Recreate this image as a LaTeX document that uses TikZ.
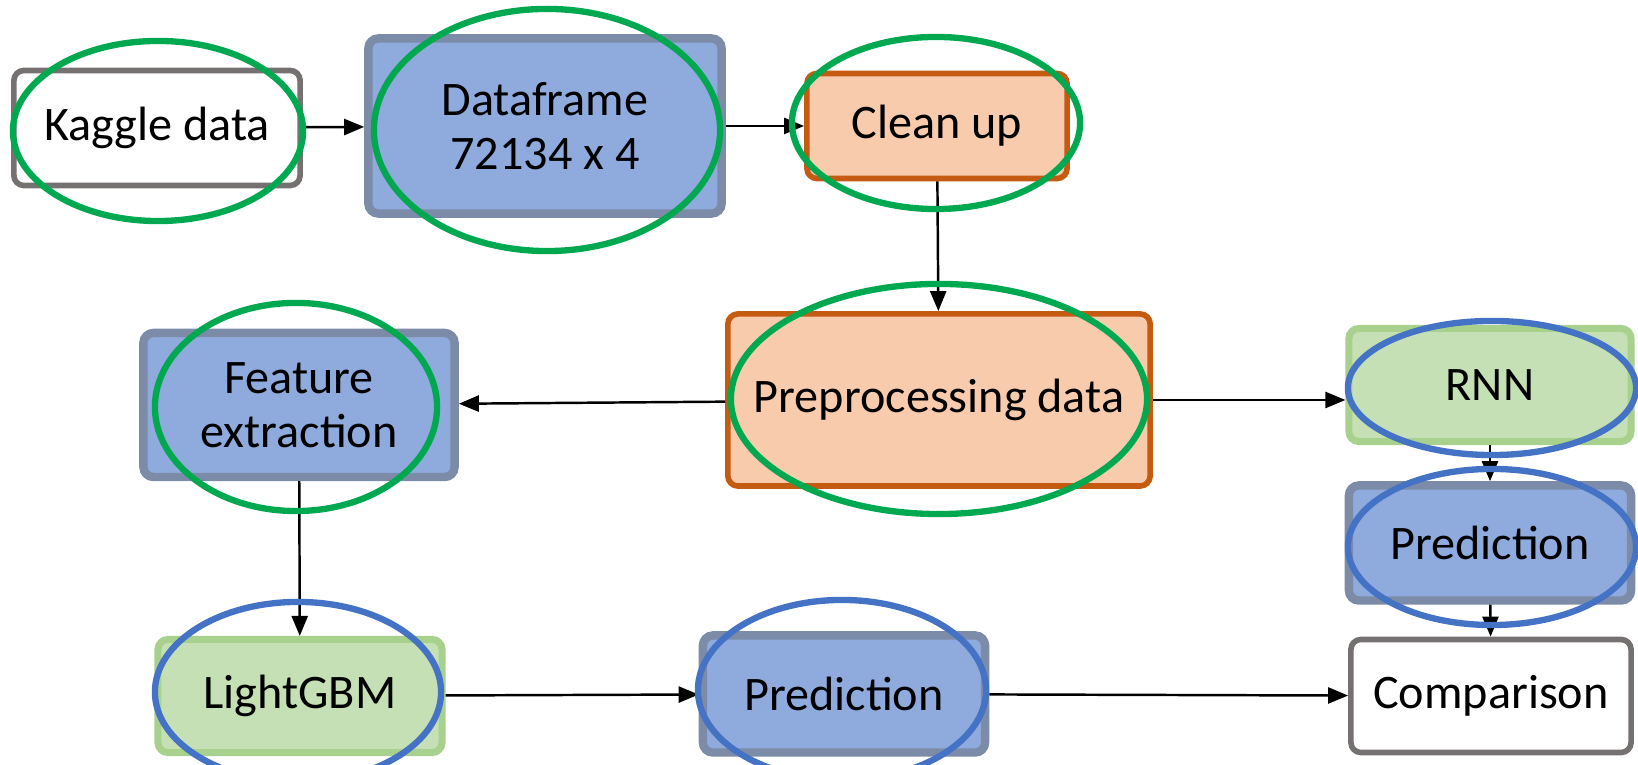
\documentclass[tikz,border=0pt]{standalone}
\usepackage{fontspec}
\setmainfont{Carlito}
\usetikzlibrary{arrows.meta,positioning,shapes.geometric}
\definecolor{boxblue}{RGB}{143,170,220}
\definecolor{boxblueline}{RGB}{124,140,168}
\definecolor{boxorange}{RGB}{248,203,173}
\definecolor{boxorangeline}{RGB}{197,90,17}
\definecolor{boxgreen}{RGB}{197,224,180}
\definecolor{boxgreenline}{RGB}{169,209,142}
\definecolor{boxgray}{RGB}{118,113,113}
\definecolor{ringgreen}{RGB}{0,168,80}
\definecolor{ringblue}{RGB}{68,114,196}

\tikzset{
  stage/.style={rounded corners=0.1cm, line width=1.6pt, align=center,
    font=\fontsize{13.7}{15.4}\selectfont, inner sep=0pt},
  rawbox/.style={stage, draw=boxgray, fill=white},
  databox/.style={stage, draw=boxblueline, fill=boxblue, line width=2.4pt},
  procbox/.style={stage, draw=boxorangeline, fill=boxorange},
  modelbox/.style={stage, draw=boxgreenline, fill=boxgreen, line width=2pt},
  flow/.style={-{Triangle[length=0.2cm,width=0.16cm]}, line width=0.7pt},
  greenring/.style={draw=ringgreen, line width=1.8pt},
  bluering/.style={draw=ringblue, line width=1.8pt}
}

\begin{document}
\begin{tikzpicture}[x=0.01cm, y=-0.01cm]
\useasboundingbox (0,0) rectangle (1638,765);
% Top row
\node[rawbox, minimum width=2.86cm, minimum height=1.15cm] (kaggle) at (157,128) {Kaggle data};
\node[databox, minimum width=3.53cm, minimum height=1.75cm] (frame) at (545,126) {Dataframe\\72134 x 4};
\node[procbox, minimum width=2.60cm, minimum height=1.05cm] (clean) at (937,126) {Clean up};
% Middle row
\node[procbox, minimum width=4.22cm, minimum height=1.72cm] (prep) at (939,400) {Preprocessing data};
\node[databox, minimum width=3.11cm, minimum height=1.44cm] (feat) at (299,405) {Feature\\extraction};
\node[modelbox, minimum width=2.82cm, minimum height=1.13cm] (rnn) at (1490,385) {RNN};
\node[databox, minimum width=2.82cm, minimum height=1.15cm] (predR) at (1490,543) {Prediction};
% Bottom row
\node[modelbox, minimum width=2.84cm, minimum height=1.13cm] (lgbm) at (300,696) {LightGBM};
\node[databox, minimum width=2.82cm, minimum height=1.17cm] (predB) at (844,694) {Prediction};
\node[rawbox, minimum width=2.80cm, minimum height=1.13cm] (cmp) at (1491,696) {Comparison};
% Arrows
\draw[flow] (kaggle) -- (frame);
\draw[flow] (frame) -- (clean);
\draw[flow] (clean) -- (prep);
\draw[flow] (prep) -- (feat);
\draw[flow] (prep.east) -- (prep.east -| rnn.west);
\draw[flow] (feat) -- (lgbm);
\draw[flow] (lgbm) -- (predB);
\draw[flow] (predB) -- (cmp);
\draw[flow] (rnn) -- (predR);
\draw[flow] (predR) -- (cmp);
% Highlight rings
\draw[greenring] (158,131) ellipse [x radius=1.45cm, y radius=0.90cm];
\draw[greenring] (547,130) ellipse [x radius=1.73cm, y radius=1.21cm];
\draw[greenring] (936,123) ellipse [x radius=1.44cm, y radius=0.86cm];
\draw[greenring] (939,399) ellipse [x radius=2.08cm, y radius=1.15cm];
\draw[greenring] (296,407) ellipse [x radius=1.41cm, y radius=1.04cm];
\draw[bluering] (298,692) ellipse [x radius=1.43cm, y radius=0.90cm];
\draw[bluering] (842,690) ellipse [x radius=1.44cm, y radius=0.90cm];
\draw[bluering] (1492,388) ellipse [x radius=1.44cm, y radius=0.67cm];
\draw[bluering] (1492,547) ellipse [x radius=1.44cm, y radius=0.78cm];
\end{tikzpicture}
\end{document}
